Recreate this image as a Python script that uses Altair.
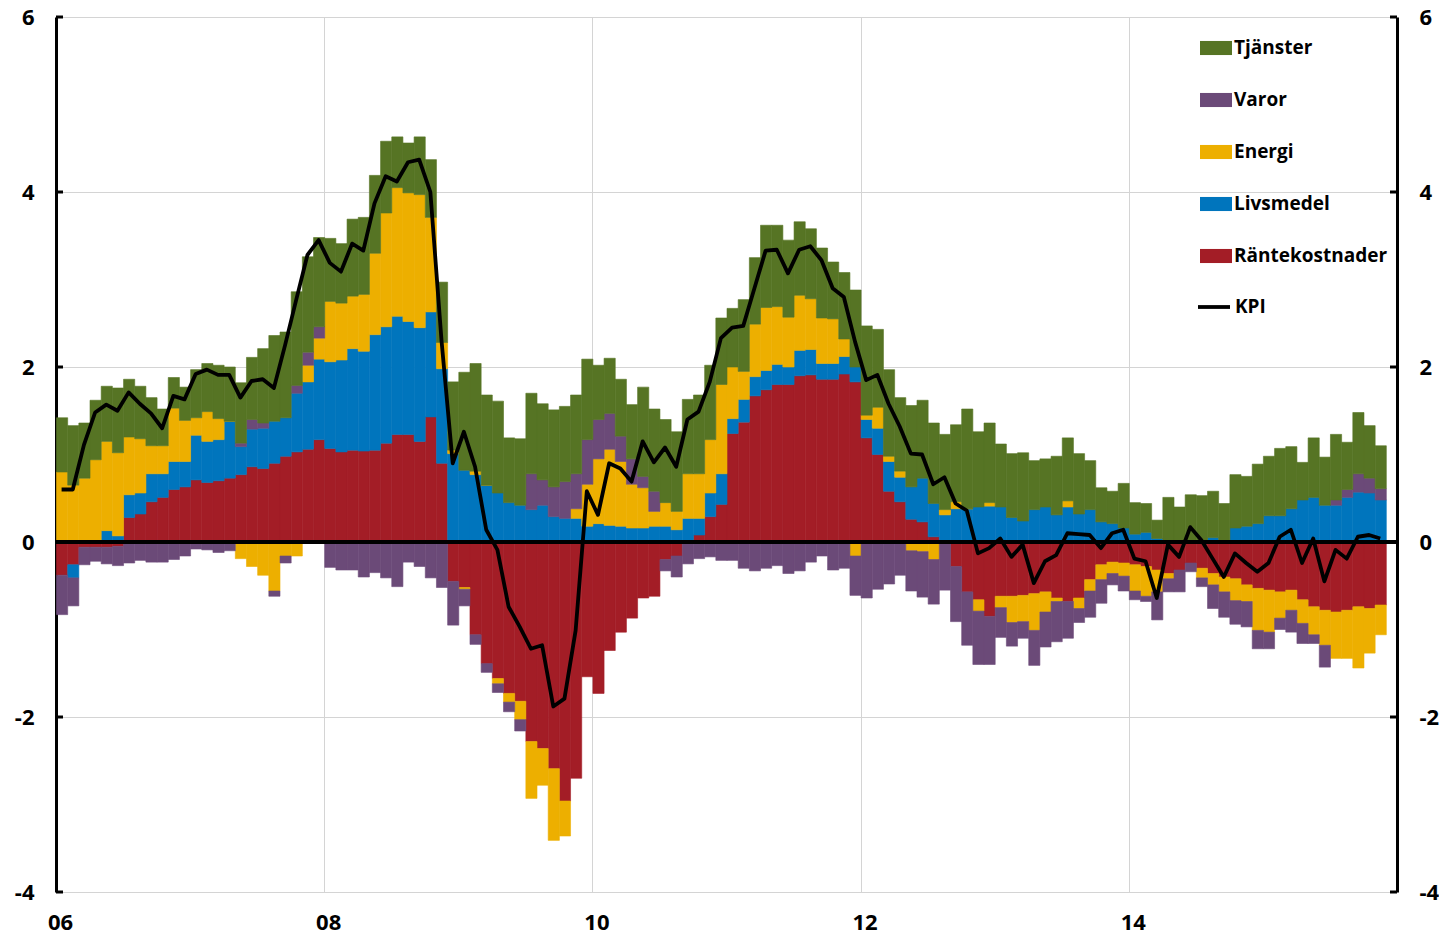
import altair as alt
import pandas as pd

# ---- data (monthly, 2006-01 .. 2015-11) ----
months = list(range(119))

rantekostnader = [
    -0.38, -0.26, -0.06, -0.06, -0.06, -0.05, 0.28, 0.32, 0.46, 0.51,
    0.60, 0.63, 0.71, 0.68, 0.70, 0.73, 0.77, 0.86, 0.84, 0.90,
    0.98, 1.03, 1.06, 1.17, 1.07, 1.03, 1.05, 1.04, 1.05, 1.13,
    1.23, 1.23, 1.15, 1.43, 0.90, -0.45, -0.52, -1.06, -1.39, -1.56,
    -1.73, -1.82, -2.28, -2.36, -2.59, -2.96, -2.70, -1.54, -1.73, -1.24,
    -1.03, -0.87, -0.64, -0.62, -0.20, -0.16, 0.00, 0.08, 0.29, 0.43,
    1.24, 1.37, 1.67, 1.74, 1.80, 1.80, 1.90, 1.91, 1.86, 1.86,
    1.92, 1.83, 1.19, 1.00, 0.58, 0.46, 0.26, 0.23, 0.06, 0.00,
    -0.28, -0.57, -0.66, -0.85, -0.62, -0.62, -0.61, -0.59, -0.57, -0.64,
    -0.68, -0.64, -0.43, -0.26, -0.23, -0.24, -0.26, -0.28, -0.32, -0.36,
    -0.32, -0.24, -0.30, -0.36, -0.40, -0.42, -0.49, -0.53, -0.55, -0.57,
    -0.55, -0.66, -0.74, -0.78, -0.80, -0.78, -0.74, -0.76, -0.72,
]

livsmedel = [
    0.00, -0.15, 0.00, 0.00, 0.13, 0.07, 0.26, 0.24, 0.32, 0.27,
    0.32, 0.29, 0.51, 0.47, 0.47, 0.65, 0.32, 0.43, 0.46, 0.48,
    0.44, 0.67, 0.77, 0.92, 0.99, 1.05, 1.16, 1.14, 1.32, 1.33,
    1.35, 1.29, 1.30, 1.20, 1.08, 1.01, 0.82, 0.77, 0.65, 0.56,
    0.45, 0.42, 0.37, 0.42, 0.29, 0.27, 0.27, 0.18, 0.21, 0.19,
    0.18, 0.16, 0.16, 0.18, 0.18, 0.14, 0.27, 0.19, 0.27, 0.35,
    0.17, 0.26, 0.22, 0.22, 0.23, 0.20, 0.29, 0.29, 0.18, 0.18,
    0.20, 0.17, 0.21, 0.30, 0.34, 0.28, 0.37, 0.50, 0.38, 0.31,
    0.38, 0.38, 0.40, 0.41, 0.40, 0.28, 0.24, 0.37, 0.40, 0.31,
    0.40, 0.32, 0.37, 0.23, 0.21, 0.16, 0.09, 0.11, 0.04, 0.00,
    0.00, 0.00, 0.00, 0.05, 0.00, 0.16, 0.18, 0.21, 0.30, 0.30,
    0.38, 0.48, 0.51, 0.42, 0.42, 0.51, 0.57, 0.56, 0.48,
]

energi = [
    0.80, 0.65, 0.73, 0.94, 1.02, 0.95, 0.66, 0.62, 0.32, 0.32,
    0.61, 0.47, 0.20, 0.34, 0.24, 0.00, -0.19, -0.28, -0.38, -0.56,
    -0.16, -0.16, 0.19, 0.24, 0.69, 0.65, 0.60, 0.65, 0.93, 1.30,
    1.47, 1.47, 1.52, 1.08, 0.30, 0.04, -0.02, 0.04, 0.00, -0.06,
    -0.10, -0.21, -0.65, -0.42, -0.82, -0.40, 0.11, 0.48, 0.74, 0.87,
    0.74, 0.50, 0.46, 0.17, 0.27, 0.21, 0.51, 0.51, 0.61, 1.02,
    0.59, 0.32, 0.60, 0.72, 0.66, 0.57, 0.63, 0.58, 0.52, 0.51,
    0.20, -0.16, 0.05, 0.24, 0.06, 0.07, -0.10, -0.11, -0.20, 0.06,
    0.08, 0.00, -0.13, 0.04, -0.13, -0.30, -0.30, -0.42, -0.23, -0.04,
    0.07, -0.12, -0.13, -0.17, -0.13, -0.15, -0.30, -0.34, -0.25, -0.06,
    0.00, 0.00, -0.11, -0.13, -0.17, -0.25, -0.19, -0.48, -0.48, -0.30,
    -0.23, -0.27, -0.32, -0.40, -0.53, -0.55, -0.70, -0.51, -0.34,
]

varor = [
    -0.45, -0.32, -0.20, -0.16, -0.19, -0.22, -0.24, -0.21, -0.23, -0.23,
    -0.20, -0.16, -0.08, -0.09, -0.12, -0.10, 0.04, 0.11, 0.06, -0.06,
    -0.08, 0.09, 0.15, 0.13, -0.29, -0.32, -0.32, -0.40, -0.35, -0.41,
    -0.51, -0.23, -0.28, -0.41, -0.52, -0.50, -0.19, -0.11, -0.10, -0.10,
    -0.11, -0.13, 0.41, 0.29, 0.34, 0.42, 0.40, 0.51, 0.45, 0.41,
    0.29, 0.29, 0.13, 0.23, -0.13, -0.24, -0.25, -0.19, -0.17, -0.21,
    -0.21, -0.30, -0.33, -0.30, -0.27, -0.36, -0.33, -0.23, -0.16, -0.32,
    -0.30, -0.45, -0.64, -0.54, -0.48, -0.38, -0.46, -0.52, -0.51, -0.55,
    -0.63, -0.61, -0.61, -0.55, -0.34, -0.27, -0.19, -0.40, -0.40, -0.46,
    -0.42, -0.16, -0.30, -0.27, -0.13, -0.17, -0.10, -0.06, -0.32, -0.15,
    -0.25, -0.10, -0.10, -0.27, -0.29, -0.27, -0.29, -0.21, -0.19, -0.13,
    -0.25, -0.23, -0.10, -0.25, 0.06, 0.09, 0.21, 0.17, 0.13,
]

tjanster = [
    0.62, 0.68, 0.63, 0.68, 0.63, 0.74, 0.66, 0.60, 0.55, 0.42,
    0.35, 0.38, 0.55, 0.55, 0.61, 0.62, 0.69, 0.71, 0.85, 0.98,
    0.98, 1.07, 1.09, 1.02, 0.72, 0.68, 0.88, 0.88, 0.89, 0.82,
    0.58, 0.57, 0.66, 0.66, 0.69, 0.78, 1.12, 1.23, 1.03, 1.05,
    0.74, 0.76, 0.92, 0.87, 0.88, 0.86, 0.90, 0.92, 0.62, 0.63,
    0.65, 0.62, 1.02, 0.94, 0.95, 0.91, 0.85, 0.90, 0.85, 0.76,
    0.67, 0.82, 0.76, 0.94, 0.93, 0.88, 0.84, 0.80, 0.80, 0.65,
    0.76, 0.88, 1.02, 0.89, 0.99, 0.84, 0.93, 0.89, 0.92, 0.86,
    0.88, 1.14, 0.86, 0.91, 0.72, 0.73, 0.78, 0.56, 0.55, 0.67,
    0.72, 0.69, 0.56, 0.39, 0.37, 0.51, 0.36, 0.33, 0.21, 0.51,
    0.40, 0.54, 0.53, 0.53, 0.44, 0.61, 0.57, 0.68, 0.68, 0.77,
    0.71, 0.43, 0.68, 0.55, 0.75, 0.54, 0.70, 0.60, 0.49,
]

kpi = [
    0.60, 0.60, 1.11, 1.48, 1.57, 1.50, 1.71, 1.58, 1.47, 1.30,
    1.67, 1.63, 1.92, 1.97, 1.91, 1.91, 1.65, 1.84, 1.86, 1.76,
    2.25, 2.77, 3.28, 3.45, 3.19, 3.09, 3.41, 3.33, 3.87, 4.18,
    4.12, 4.34, 4.37, 4.00, 2.30, 0.90, 1.26, 0.86, 0.14, -0.09,
    -0.74, -0.97, -1.22, -1.18, -1.88, -1.79, -1.01, 0.58, 0.31, 0.90,
    0.84, 0.69, 1.15, 0.91, 1.08, 0.86, 1.40, 1.49, 1.83, 2.33,
    2.45, 2.47, 2.90, 3.33, 3.34, 3.07, 3.34, 3.38, 3.22, 2.90,
    2.80, 2.29, 1.85, 1.91, 1.58, 1.32, 1.01, 1.00, 0.66, 0.74,
    0.44, 0.36, -0.13, -0.07, 0.04, -0.17, -0.03, -0.47, -0.22, -0.15,
    0.10, 0.09, 0.08, -0.07, 0.10, 0.14, -0.19, -0.22, -0.64, -0.03,
    -0.17, 0.17, 0.02, -0.19, -0.40, -0.13, -0.24, -0.34, -0.24, 0.06,
    0.14, -0.24, 0.04, -0.45, -0.09, -0.19, 0.06, 0.08, 0.04,
]

series_names = ["Räntekostnader", "Livsmedel", "Energi", "Varor", "Tjänster"]
legend_order = ["Tjänster", "Varor", "Energi", "Livsmedel", "Räntekostnader"]
legend_colors = ["#567424", "#6B4A78", "#EDAF00", "#0075BD", "#A31D26"]

x_tick_vals = [0, 24, 48, 72, 96]
x_tick_labels = ["06", "08", "10", "12", "14"]
y_tick_vals = [-4, -2, 0, 2, 4, 6]

# ---- tables ----
rows = []
for rank, (name, vals) in enumerate(zip(series_names,
                                        [rantekostnader, livsmedel, energi, varor, tjanster])):
    for m, v in zip(months, vals):
        rows.append({"m": m, "m2": m + 1, "val": v, "series": name, "rank": rank})
bars_df = pd.DataFrame(rows)
kpi_df = pd.DataFrame({"c": [m + 0.5 for m in months], "kpi": kpi, "lab": ["KPI"] * len(months)})
ytick_df = pd.DataFrame({"t": y_tick_vals})
zero_df = pd.DataFrame({"z": [0]})

x_label_expr = " : ".join(
    f"datum.value == {v} ? '{l}'" for v, l in zip(x_tick_vals, x_tick_labels)
) + " : ''"
y_label_expr = "datum.value < 0 ? '-' + (-datum.value) : '' + datum.value"

W, H = 1341, 875
FONT = "Open Sans"

xscale = alt.Scale(domain=[0, 120], nice=False, zero=False)
yscale = alt.Scale(domain=[-4, 6], nice=False, zero=False)

xaxis = alt.Axis(values=x_tick_vals, labelExpr=x_label_expr, title=None, orient="bottom",
                 domain=False, ticks=False, grid=True, gridColor="#d4d4d4", gridWidth=1,
                 labelFont=FONT, labelFontSize=22, labelFontWeight="bold", labelColor="black",
                 labelPadding=20, labelOffset=4, labelFlush=False)

yaxis_left = alt.Axis(values=y_tick_vals, labelExpr=y_label_expr, title=None, orient="left",
                      domain=True, domainColor="black", domainWidth=3, ticks=False, tickSize=0,
                      grid=True, gridColor="#d4d4d4", gridWidth=1,
                      labelFont=FONT, labelFontSize=22, labelFontWeight="bold",
                      labelColor="black", labelPadding=22)

yaxis_right = alt.Axis(values=y_tick_vals, labelExpr=y_label_expr, title=None, orient="right",
                       domain=True, domainColor="black", domainWidth=3, ticks=False, tickSize=0,
                       grid=False, labelFont=FONT, labelFontSize=22, labelFontWeight="bold",
                       labelColor="black", labelPadding=22)

color_scale = alt.Scale(domain=legend_order, range=legend_colors)

bars = alt.Chart(bars_df).mark_bar(binSpacing=0, strokeWidth=0.6).encode(
    x=alt.X("m:Q", bin="binned", scale=xscale, axis=xaxis),
    x2="m2:Q",
    y=alt.Y("val:Q", stack="zero", scale=yscale, axis=yaxis_left),
    color=alt.Color("series:N", scale=color_scale, legend=alt.Legend(
        orient="none", legendX=1144, legendY=15, title=None, direction="vertical",
        symbolType="M-1,-0.44H1V0.44H-1Z", symbolSize=1024, symbolStrokeWidth=0,
        symbolOpacity=1, labelFont=FONT, labelFontSize=19, labelFontWeight="bold",
        labelColor="black", labelOffset=2, rowPadding=26, padding=0)),
    stroke=alt.Stroke("series:N", scale=color_scale, legend=None),
    order=alt.Order("rank:Q", sort="ascending"),
)

zero = alt.Chart(zero_df).mark_rule(color="black", strokeWidth=4).encode(
    y=alt.Y("z:Q", scale=yscale, axis=None)
)

line = alt.Chart(kpi_df).mark_line(strokeWidth=3.8, strokeJoin="round").encode(
    x=alt.X("c:Q", scale=xscale, axis=None),
    y=alt.Y("kpi:Q", scale=yscale, axis=None),
    stroke=alt.Stroke("lab:N", scale=alt.Scale(domain=["KPI"], range=["#000000"]),
                      legend=alt.Legend(orient="none", legendX=1140, legendY=272, title=None,
                                        symbolType="stroke", symbolSize=1024,
                                        symbolStrokeWidth=3.8, labelFont=FONT,
                                        labelFontSize=19, labelFontWeight="bold",
                                        labelColor="black", labelOffset=3, padding=0)),
)

left_ticks = alt.Chart(ytick_df).mark_rule(color="black", strokeWidth=3).encode(
    x=alt.value(0), x2=alt.value(7),
    y=alt.Y("t:Q", scale=yscale, axis=None),
)

right_ticks = alt.Chart(ytick_df).mark_rule(color="black", strokeWidth=3).encode(
    x=alt.value(W - 7), x2=alt.value(W),
    y=alt.Y("t:Q", scale=yscale, axis=yaxis_right),
)

chart = alt.layer(bars, zero, line, left_ticks, right_ticks).resolve_scale(
    stroke="independent"
).resolve_axis(
    x="independent", y="independent"
).properties(
    width=W, height=H,
    autosize=alt.AutoSizeParams(type="none"),
    padding={"left": 48, "top": 9, "right": 42, "bottom": 44},
).configure_view(stroke=None)

chart.save("out.html", embed_options={"renderer": "svg", "actions": False})
